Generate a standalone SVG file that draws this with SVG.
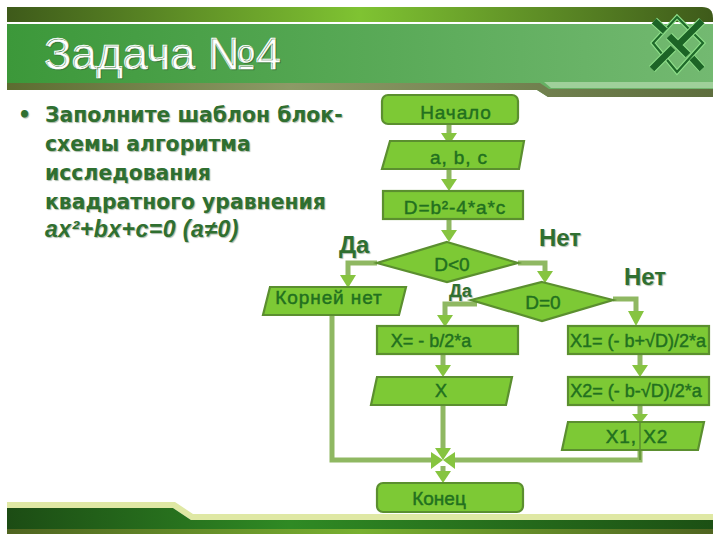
<svg xmlns="http://www.w3.org/2000/svg" width="720" height="540" viewBox="0 0 720 540">
<style>
.n{fill:#7dc935;stroke:#5b8f2f;stroke-width:2.2}
.c{fill:none;stroke:#8fb862;stroke-width:5}
.h{fill:#86c440}
text{font-family:"Liberation Sans",Arial,sans-serif}
.t{fill:#22701f;font-size:19px;text-anchor:middle;stroke:#22701f;stroke-width:.45}
.w{letter-spacing:.9px}
.s{font-size:18px}
.b{font-family:"DejaVu Sans",sans-serif;fill:#2f6f30;font-size:20.4px;font-weight:700;text-shadow:1px 1px 1px #a9b9a9}
.l{fill:#2f6f30;font-weight:700;text-shadow:1px 1px 1px #a9b9a9}
</style>
<defs>
<linearGradient id="g1"><stop offset="0" stop-color="#3e5a1a"/><stop offset=".5" stop-color="#7fc332"/><stop offset="1" stop-color="#3e5a1a"/></linearGradient>
<linearGradient id="g2"><stop offset="0" stop-color="#3c983a"/><stop offset="1" stop-color="#73b971"/></linearGradient>
<linearGradient id="g3"><stop offset="0" stop-color="#5c6c30"/><stop offset=".4" stop-color="#8c9a66"/><stop offset="1" stop-color="#5e6e3e"/></linearGradient>
<linearGradient id="g4"><stop offset="0" stop-color="#1c4c14"/><stop offset=".4" stop-color="#2f8a24"/><stop offset="1" stop-color="#1c5014"/></linearGradient>
<linearGradient id="g5"><stop offset="0" stop-color="#4f6420"/><stop offset=".5" stop-color="#78b030"/><stop offset="1" stop-color="#4f6420"/></linearGradient>
</defs>
<g id="header">
<path d="M7 7H702Q713 7 713 18V22H7Z" fill="url(#g1)"/>
<path d="M7 24H713V97H548L537 90H7Z" fill="url(#g2)"/>
<path d="M7 83H540L549 89H713V97H548L537 90H7Z" fill="url(#g3)"/>
<path d="M544 82H713V88H551Z" fill="#9fd09a"/>
<g id="logo" fill="none">
<path d="M677 17L703 43L677 72L653 43Z" stroke="#8fe08a" stroke-width="4.5"/>
<path d="M677 17L703 43L677 72L653 43Z" stroke="#1f6a2a" stroke-width="2.2"/>
<path d="M654 21L665 31M669 36L688 55M692 58L702 69M702 21L678 45M652 69L673 48" stroke="#8fe08a" stroke-width="8.5"/>
<path d="M654 21L665 31M669 36L688 55M692 58L702 69M702 21L678 45M652 69L673 48" stroke="#1c6426" stroke-width="6.5"/>
</g>
<text x="44" y="69" font-size="45" fill="#fff" stroke="#fff" stroke-width=".5" style="text-shadow:1px 1px 0 #3a7a3a">Задача №4</text>
</g>
<g id="footer">
<path d="M7 502H175L193 514H713V520H191L173 508H7Z" fill="#dfe8a4"/>
<path d="M7 508H173L191 520H713V529H7Z" fill="url(#g4)"/>
<rect x="7" y="529" width="706" height="5" fill="url(#g5)"/>
</g>
<g id="body">
<text class="b" x="18" y="122">•</text>
<text class="b" x="45" y="122">Заполните шаблон блок-</text>
<text class="b" x="45" y="151">схемы алгоритма</text>
<text class="b" x="45" y="180">исследования</text>
<text class="b" x="45" y="209">квадратного уравнения</text>
<text class="b" x="45" y="237" font-style="italic" style="font-family:'Liberation Sans',sans-serif;font-size:23px;letter-spacing:.5px">ax²+bx+c=0 (a≠0)</text>
</g>
<g id="connectors">
<path class="c" d="M449 124V136M449 169V182M449 219V232M377 263H348V276M518 263H545V274M477 304H445V316M613 299H636V312M443 354V366M640 354V366M640 405V416M443 405V450M332 315V460H432M640 450V460H454M443 466V472"/>
<g class="h">
<path d="M441 133H457L449 145Z"/><path d="M441 179H457L449 191Z"/><path d="M441 230H457L449 242Z"/>
<path d="M340 275H356L348 288Z"/><path d="M537 271H553L545 283Z"/><path d="M437 315H453L445 327Z"/>
<path d="M628 311H644L636 326Z"/><path d="M435 365H451L443 377Z"/><path d="M632 365H648L640 377Z"/><path d="M632 414H648L640 424Z"/>
<path d="M435 448H451L443 460Z"/><path d="M431 452V469L443 460Z"/><path d="M455 452V469L443 460Z"/><path d="M435 471H451L443 483Z"/>
</g>
</g>
<g id="n-start"><rect class="n" x="382" y="95" width="136" height="29" rx="6"/><text class="t w" x="456" y="119">Начало</text></g>
<g id="n-input"><path class="n" d="M390 141H524L519 169H382Z"/><text class="t w" x="459" y="164">a, b, c</text></g>
<g id="n-disc"><rect class="n" x="383" y="191" width="140" height="28"/><text class="t w" x="455" y="214">D=b²-4*a*c</text></g>
<g id="n-d0"><path class="n" d="M447 242L518 263L447 282L377 263Z"/><text class="t" x="452" y="271">D&lt;0</text></g>
<g id="n-eq"><path class="n" d="M542 282L613 300L542 321L471 300Z"/><text class="t" x="543" y="309">D=0</text></g>
<g id="n-none"><path class="n" d="M270 287H406L399 315H263Z"/><text class="t w" x="329" y="304">Корней нет</text></g>
<g id="n-x"><rect class="n" x="377" y="326" width="141" height="28"/><text class="t s" x="431" y="347">X= - b/2*a</text></g>
<g id="n-xo"><path class="n" d="M377 377H512L506 405H371Z"/><text class="t s" x="441" y="397">X</text></g>
<g id="n-x1"><rect class="n" x="568" y="326" width="141" height="28"/><text class="t s" x="638" y="347">X1= (- b+√D)/2*a</text></g>
<g id="n-x2"><rect class="n" x="568" y="377" width="141" height="28"/><text class="t s" x="636" y="397">X2= (- b-√D)/2*a</text></g>
<g id="n-xout"><path class="n" d="M568 422H704L698 450H562Z"/><text class="t w" x="637" y="443">X1, X2</text><path d="M640 422V460" stroke="#5b8f2f" stroke-width="1.5"/></g>
<g id="n-end"><rect class="n" x="377" y="483" width="146" height="29" rx="6"/><text class="t" x="439" y="505">Конец</text></g>
<g id="labels">
<text class="l" x="339" y="253" font-size="24">Да</text>
<text class="l" x="449" y="297" font-size="18">Да</text>
<text class="l" x="539" y="246" font-size="24">Нет</text>
<text class="l" x="624" y="285" font-size="24">Нет</text>
</g>
</svg>
